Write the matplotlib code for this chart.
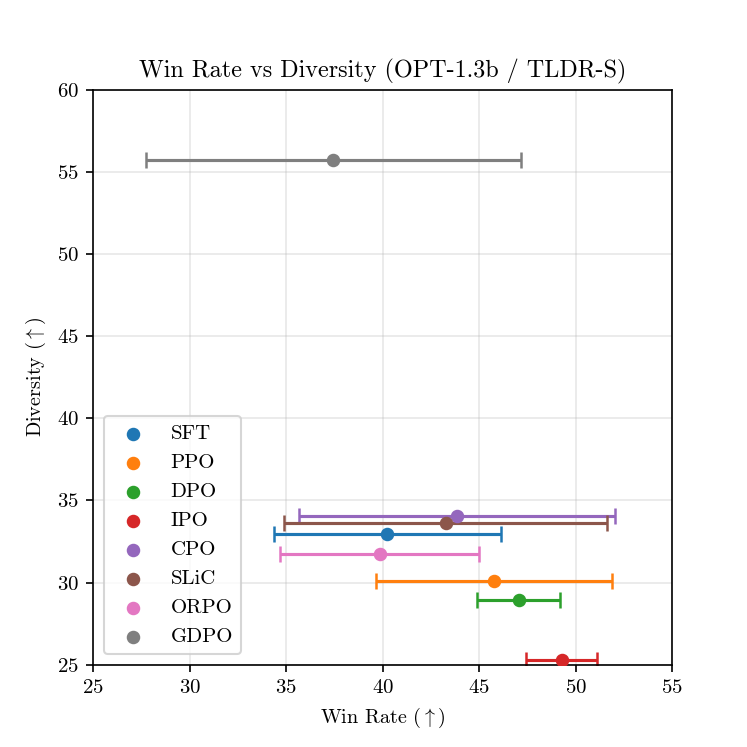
import matplotlib
matplotlib.use("Agg")
import matplotlib.pyplot as plt

plt.rcParams['font.family'] = 'serif'
plt.rcParams['font.serif'] = ['cmr10']
plt.rcParams['mathtext.fontset'] = 'cm'
plt.rcParams['axes.formatter.use_mathtext'] = True
plt.rcParams['font.size'] = 10

methods = ["SFT", "PPO", "DPO", "IPO", "CPO", "SLiC", "ORPO", "GDPO"]
win_rate = [40.24, 45.77, 47.05, 49.27, 43.84, 43.25, 39.83, 37.44]
win_rate_err = [5.9, 6.1, 2.15, 1.83, 8.18, 8.37, 5.14, 9.72]
diversity = [32.95, 30.12, 28.94, 25.32, 34.08, 33.64, 31.77, 55.7]
colors = ["#1f77b4", "#ff7f0e", "#2ca02c", "#d62728", "#9467bd", "#8c564b", "#e377c2", "#7f7f7f"]

fig, ax = plt.subplots(figsize=(4.98, 4.98), dpi=150)
for m, x, xe, y, c in zip(methods, win_rate, win_rate_err, diversity, colors):
    ax.errorbar(x, y, xerr=xe, fmt='none', ecolor=c, elinewidth=1.5, capsize=4, capthick=1.2)
    ax.scatter(x, y, color=c, s=30, label=m, zorder=3)

ax.set_xlim(25, 55)
ax.set_ylim(25, 60)
ax.set_xlabel(r'Win Rate ($\uparrow$)', fontsize=9.7)
ax.set_ylabel(r'Diversity ($\uparrow$)', fontsize=9.7)
ax.set_title('Win Rate vs Diversity (OPT-1.3b / TLDR-S)', fontsize=11.6)
ax.grid(True, alpha=0.3)
ax.legend(loc='lower left')
fig.savefig('out.png', dpi=150)
